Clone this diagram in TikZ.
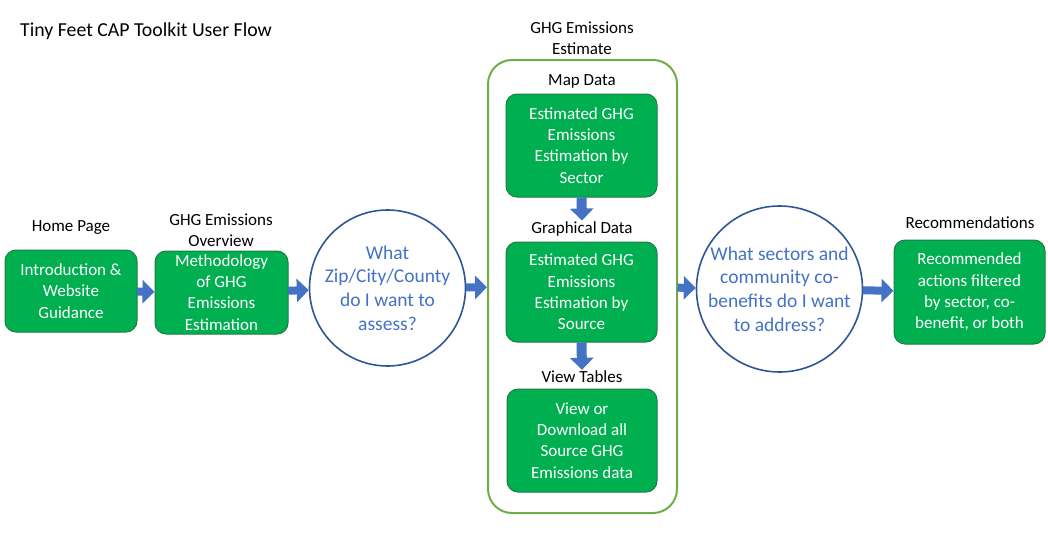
\documentclass[tikz,border=0pt]{standalone}
\usepackage{fontspec}
\setmainfont{Carlito}
\usetikzlibrary{arrows.meta,positioning}
\definecolor{boxgreen}{HTML}{00B050}
\definecolor{boxedge}{HTML}{1E7B45}
\definecolor{framegreen}{HTML}{70AD47}
\definecolor{flowblue}{HTML}{4472C4}
\definecolor{ringblue}{HTML}{2F5597}
\tikzset{
    greenbox/.style={draw=boxedge, line width=1pt, fill=boxgreen, rounded corners=11pt,
        text=white, align=center, font=\fontsize{17}{21.3}\selectfont, inner sep=0pt},
    bubble/.style={circle, draw=ringblue, line width=1.6pt, fill=white, text=flowblue,
        align=center, font=\fontsize{19.5}{23.6}\selectfont, inner sep=0pt},
    caption/.style={align=center, font=\fontsize{17}{21.3}\selectfont, inner sep=0pt},
    flowarrow/.style={flowblue, line width=8pt, -{Triangle[length=12pt, width=23pt]}, shorten <=-0.5pt},
    droparrow/.style={flowblue, line width=10pt, -{Triangle[length=12pt, width=23pt]}}
}
\begin{document}
\begin{tikzpicture}[x=1pt, y=-1pt]
    \useasboundingbox (0,0) rectangle (1048,535);
    \node [caption, anchor=west, font=\fontsize{19.8}{24}\selectfont] (title) at (20, 31)
        {Tiny Feet CAP Toolkit User Flow};

    % home page and overview
    \node [greenbox, minimum width=132pt, minimum height=82pt] (home) at (71, 291)
        {Introduction \&\\ Website\\ Guidance};
    \node [caption] (homelabel) at (71, 228) {Home Page};
    \node [greenbox, minimum width=133pt, minimum height=83pt] (method) at (221.5, 292.5)
        {Methodology\\ of GHG\\ Emissions\\ Estimation};
    \node [caption] (methodlabel) at (221, 230) {GHG Emissions\\ Overview};
    \node [bubble, minimum size=156pt] (zip) at (387.5, 288)
        {What\\ Zip/City/County\\ do I want to\\ assess?};

    % emissions estimate frame
    \node [draw=framegreen, line width=2pt, rounded corners=24pt,
        minimum width=189pt, minimum height=453pt, inner sep=0pt] (est) at (582.5, 286.5) {};
    \node [caption] (estlabel) at (582, 38.5) {GHG Emissions\\ Estimate};
    \node [caption] (maplabel) at (582, 81) {Map Data};
    \node [greenbox, minimum width=151pt, minimum height=103pt] (map) at (581.5, 145.5)
        {Estimated GHG\\ Emissions\\ Estimation by\\ Sector};
    \node [caption] (graphlabel) at (582, 229) {Graphical Data};
    \node [greenbox, minimum width=151pt, minimum height=100pt] (graph) at (581.5, 292)
        {Estimated GHG\\ Emissions\\ Estimation by\\ Source};
    \node [caption] (viewlabel) at (582, 377) {View Tables};
    \node [greenbox, minimum width=150pt, minimum height=103pt] (view) at (582, 440.5)
        {View or\\ Download all\\ Source GHG\\ Emissions data};

    % sectors and recommendations
    \node [bubble, minimum size=166pt] (sectors) at (779.5, 289)
        {What sectors and\\ community co-\\ benefits do I want\\ to address?};
    \node [greenbox, minimum width=151pt, minimum height=104pt] (recs) at (969.5, 292)
        {Recommended\\ actions filtered\\ by sector, co-\\ benefit, or both};
    \node [caption] (recslabel) at (970, 223) {Recommendations};

    \foreach \a/\b in {home/method, method/zip, zip/est, est/sectors, sectors/recs}
        \draw [flowarrow] (\a) -- (\b);
    \draw [droparrow] (map.south) -- ([yshift=1pt]graphlabel.north);
    \draw [droparrow] (graph.south) -- ([yshift=1pt]viewlabel.north);
\end{tikzpicture}
\end{document}
